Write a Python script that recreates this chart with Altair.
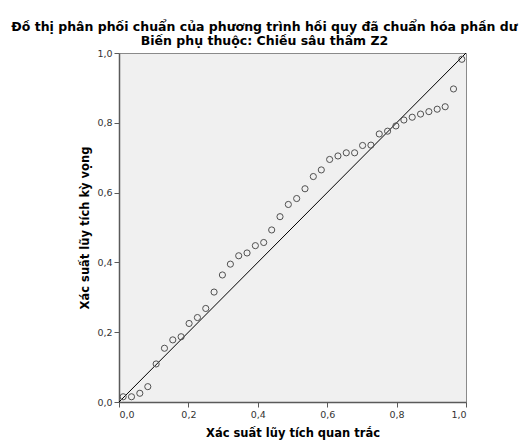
import altair as alt
import pandas as pd

# Observed vs expected cumulative probabilities of the standardized residuals
observed = [0.012, 0.036, 0.060, 0.083, 0.107, 0.131, 0.155, 0.179, 0.202, 0.226,
            0.250, 0.274, 0.298, 0.321, 0.345, 0.369, 0.393, 0.417, 0.440, 0.464,
            0.488, 0.512, 0.536, 0.560, 0.583, 0.607, 0.631, 0.655, 0.679, 0.702,
            0.726, 0.750, 0.774, 0.798, 0.821, 0.845, 0.869, 0.893, 0.917, 0.940,
            0.964, 0.988]
expected = [0.015, 0.015, 0.025, 0.044, 0.109, 0.154, 0.178, 0.187, 0.225, 0.242,
            0.268, 0.315, 0.364, 0.395, 0.419, 0.427, 0.448, 0.457, 0.493, 0.531,
            0.566, 0.583, 0.611, 0.646, 0.665, 0.695, 0.705, 0.714, 0.714, 0.735,
            0.736, 0.768, 0.776, 0.791, 0.808, 0.816, 0.825, 0.832, 0.839, 0.846,
            0.897, 0.982]
reference_line = [0.0, 1.0]
tick_values = [0.0, 0.2, 0.4, 0.6, 0.8, 1.0]

FONT = "DejaVu Sans"

points = pd.DataFrame({"obs": observed, "exp": expected})
diag = pd.DataFrame({"obs": reference_line, "exp": reference_line})

label_expr = "replace(format(datum.value, '.1f'), '.', ',')"

x_scale = alt.Scale(domain=[0, 1], nice=False, zero=False)
y_scale = alt.Scale(domain=[0, 1], nice=False, zero=False)

x_axis = alt.Axis(
    title="Xác suất lũy tích quan trắc", values=tick_values, labelExpr=label_expr,
    grid=False, tickSize=5, labelPadding=2, titlePadding=9,
)
y_axis = alt.Axis(
    title="Xác suất lũy tích kỳ vọng", values=tick_values, labelExpr=label_expr,
    grid=False, tickSize=5, labelPadding=2, titlePadding=6,
)

line = alt.Chart(diag).mark_line(color="#000000", strokeWidth=1).encode(
    x=alt.X("obs:Q", scale=x_scale, axis=x_axis),
    y=alt.Y("exp:Q", scale=y_scale, axis=y_axis),
)

dots = alt.Chart(points).mark_point(
    shape="circle", filled=False, size=38, stroke="#505050", strokeWidth=1, opacity=1
).encode(
    x=alt.X("obs:Q", scale=x_scale),
    y=alt.Y("exp:Q", scale=y_scale),
)

chart = (
    alt.layer(line, dots)
    .properties(
        width=347,
        height=349,
        autosize=alt.AutoSizeParams(type="none"),
        padding={"left": 119, "top": 53, "right": 59, "bottom": 41},
        background="#ffffff",
        title=alt.TitleParams(
            text="Đồ thị phân phối chuẩn của phương trình hồi quy đã chuẩn hóa phần dư",
            subtitle="Biến phụ thuộc: Chiều sâu thấm Z2",
            font=FONT, fontSize=12.5, fontWeight="bold", color="#000000",
            subtitleFont=FONT, subtitleFontSize=12.5, subtitleFontWeight="bold",
            subtitleColor="#000000", subtitlePadding=1,
            anchor="middle", dx=-28, offset=1,
        ),
    )
    .configure_view(fill="#f0f0f0", stroke="#8a8a8a", strokeWidth=1)
    .configure_axis(
        labelFont=FONT, labelFontSize=9.5, labelColor="#333333",
        titleFont=FONT, titleFontSize=11.5, titleFontWeight="bold", titleColor="#000000",
        domainColor="#5a5a5a", domainWidth=1.5, tickColor="#5a5a5a", tickWidth=1,
    )
)

chart.save("out.html", embed_options={"renderer": "svg", "actions": False})
